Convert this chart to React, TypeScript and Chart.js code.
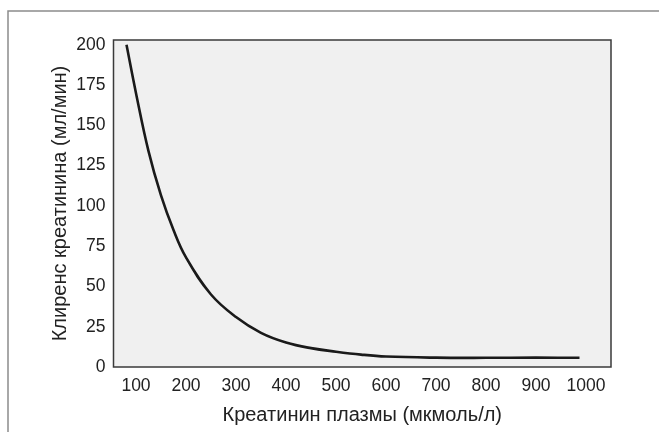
import React, { useEffect, useRef } from "react";
import { Chart, registerables } from "chart.js";

Chart.register(...registerables);

const creatinine = [81, 100, 125, 150, 175, 200, 250, 300, 350, 400, 450, 500, 550, 600, 700, 800, 900, 987];
const clearance = [200, 170, 134, 106.5, 85, 68, 45, 31, 21.2, 15.2, 11.7, 9.5, 7.7, 6.5, 5.8, 5.7, 5.8, 5.7];
const xTicks = [100, 200, 300, 400, 500, 600, 700, 800, 900, 1000];
const yTicks = [0, 25, 50, 75, 100, 125, 150, 175, 200];
const xTitle = "Креатинин плазмы (мкмоль/л)";
const yTitle = "Клиренс креатинина (мл/мин)";

const FONT = "'Liberation Sans', Arial, sans-serif";

const framePlugin = {
  id: "frame",
  beforeDatasetsDraw(chart: any) {
    const { ctx, chartArea: a } = chart;
    ctx.save();
    ctx.fillStyle = "#f0f0f0";
    ctx.fillRect(a.left, a.top, a.right - a.left, a.bottom - a.top);
    ctx.restore();
  },
  afterDraw(chart: any) {
    const { ctx, chartArea: a } = chart;
    ctx.save();
    ctx.strokeStyle = "#3a3a3a";
    ctx.lineWidth = 1.5;
    ctx.strokeRect(a.left, a.top, a.right - a.left, a.bottom - a.top);
    ctx.strokeStyle = "#8c8c8c";
    ctx.lineWidth = 1.5;
    ctx.beginPath();
    ctx.moveTo(8, chart.height);
    ctx.lineTo(8, 11);
    ctx.lineTo(chart.width, 11);
    ctx.stroke();
    ctx.restore();
  },
};

export default function App() {
  const ref = useRef<HTMLCanvasElement>(null);
  useEffect(() => {
    if (!ref.current) return;
    const chart = new Chart(ref.current, {
      type: "line",
      data: {
        datasets: [
          {
            data: creatinine.map((x, i) => ({ x, y: clearance[i] })),
            borderColor: "#1a1a1a",
            borderWidth: 2.6,
            pointRadius: 0,
            tension: 0.4,
            fill: false,
          },
        ],
      },
      options: {
        animation: false,
        responsive: false,
        devicePixelRatio: 1,
        layout: { padding: { left: 0, top: 40, right: 48, bottom: 0 } },
        plugins: { legend: { display: false }, tooltip: { enabled: false } },
        scales: {
          x: {
            type: "linear",
            min: 55,
            max: 1050,
            grid: { display: false, drawTicks: false },
            border: { display: false },
            afterBuildTicks: (s: any) => {
              s.ticks = xTicks.map((v) => ({ value: v }));
            },
            afterFit: (s: any) => {
              s.height = 65;
            },
            ticks: {
              padding: 9,
              color: "#222",
              font: { family: FONT, size: 17.5 },
              maxRotation: 0,
              autoSkip: false,
              callback: (v: any) => String(v),
            },
            title: {
              display: true,
              text: xTitle,
              color: "#222",
              font: { family: FONT, size: 20 },
              padding: { top: 0, bottom: 5 },
            },
          },
          y: {
            type: "linear",
            min: 0,
            max: 203,
            grid: { display: false, drawTicks: false },
            border: { display: false },
            afterBuildTicks: (s: any) => {
              s.ticks = yTicks.map((v) => ({ value: v }));
            },
            afterFit: (s: any) => {
              s.width = 113.5;
            },
            ticks: {
              padding: 8,
              color: "#222",
              font: { family: FONT, size: 17.5 },
              autoSkip: false,
              callback: (v: any) => String(v),
            },
            title: {
              display: true,
              text: yTitle,
              color: "#222",
              font: { family: FONT, size: 20 },
              padding: { top: 48, bottom: 0 },
            },
          },
        },
      },
      plugins: [framePlugin],
    } as any);
    return () => chart.destroy();
  }, []);
  return (
    <div style={{ position: "fixed", left: 0, top: 0, width: 659, height: 432, background: "#fff" }}>
      <canvas ref={ref} width={659} height={432} style={{ display: "block", width: 659, height: 432 }} />
    </div>
  );
}
